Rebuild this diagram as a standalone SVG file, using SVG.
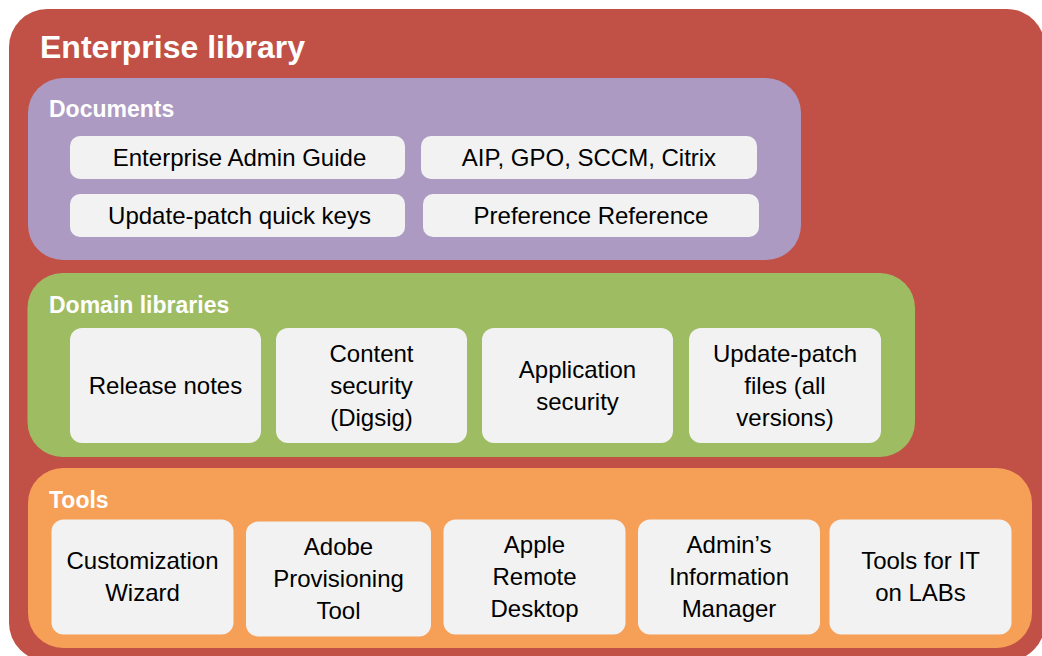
<svg xmlns="http://www.w3.org/2000/svg" width="1042" height="656" viewBox="0 0 1042 656">
<style>
.hdr{font-family:"Liberation Sans",Arial,sans-serif;font-weight:bold;fill:#FFFFFF}
.t{font-family:"Liberation Sans",Arial,sans-serif;font-size:24px;fill:#000000;text-anchor:middle}
.item{fill:#F2F2F2}
</style>
<rect width="1042" height="656" fill="#FFFFFF"/>
<g id="enterprise-library">
<rect x="9" y="9" width="1036" height="652" rx="38" fill="#C15046"/>
<text class="hdr" x="40" y="58" font-size="32">Enterprise library</text>
</g>
<g id="documents">
<rect x="28" y="78" width="773" height="182" rx="35" fill="#AD9AC2"/>
<text class="hdr" x="49" y="117" font-size="23">Documents</text>
</g>
<g id="doc-admin-guide">
<rect class="item" x="70" y="136" width="335" height="43" rx="10"/>
<text class="t" x="239.5" y="165.5">Enterprise Admin Guide</text>
</g>
<g id="doc-aip">
<rect class="item" x="421" y="136" width="336" height="43" rx="10"/>
<text class="t" x="589" y="165.5">AIP, GPO, SCCM, Citrix</text>
</g>
<g id="doc-quick-keys">
<rect class="item" x="70" y="194" width="335" height="43" rx="10"/>
<text class="t" x="239.5" y="223.5">Update-patch quick keys</text>
</g>
<g id="doc-preference">
<rect class="item" x="423" y="194" width="336" height="43" rx="10"/>
<text class="t" x="591" y="223.5">Preference Reference</text>
</g>
<g id="domain-libraries">
<rect x="27.5" y="273" width="887.5" height="184" rx="35" fill="#9EBC62"/>
<text class="hdr" x="49" y="312.5" font-size="23">Domain libraries</text>
</g>
<g id="dl-release-notes">
<rect class="item" x="70" y="328" width="191" height="115" rx="12"/>
<text class="t" x="165.5" y="393.5">Release notes</text>
</g>
<g id="dl-content-security">
<rect class="item" x="276" y="328" width="191" height="115" rx="12"/>
<text class="t" x="371.5" y="361.5">Content</text>
<text class="t" x="371.5" y="393.5">security</text>
<text class="t" x="371.5" y="425.5">(Digsig)</text>
</g>
<g id="dl-application-security">
<rect class="item" x="482" y="328" width="191" height="115" rx="12"/>
<text class="t" x="577.5" y="377.5">Application</text>
<text class="t" x="577.5" y="409.5">security</text>
</g>
<g id="dl-update-patch-files">
<rect class="item" x="689" y="328" width="192" height="115" rx="12"/>
<text class="t" x="785" y="361.5">Update-patch</text>
<text class="t" x="785" y="393.5">files (all</text>
<text class="t" x="785" y="425.5">versions)</text>
</g>
<g id="tools">
<rect x="28" y="468" width="1004" height="180" rx="35" fill="#F69F56"/>
<text class="hdr" x="49" y="507.5" font-size="23">Tools</text>
</g>
<g id="tool-customization">
<rect class="item" x="51.5" y="519.5" width="182" height="115" rx="12"/>
<text class="t" x="142.5" y="568.5">Customization</text>
<text class="t" x="142.5" y="600.5">Wizard</text>
</g>
<g id="tool-provisioning">
<rect class="item" x="246" y="521.5" width="185" height="115" rx="12"/>
<text class="t" x="338.5" y="554.5">Adobe</text>
<text class="t" x="338.5" y="586.5">Provisioning</text>
<text class="t" x="338.5" y="618.5">Tool</text>
</g>
<g id="tool-apple-remote">
<rect class="item" x="443.5" y="519.5" width="182" height="115" rx="12"/>
<text class="t" x="534.5" y="552.5">Apple</text>
<text class="t" x="534.5" y="584.5">Remote</text>
<text class="t" x="534.5" y="616.5">Desktop</text>
</g>
<g id="tool-admin-info">
<rect class="item" x="638" y="519.5" width="182" height="115" rx="12"/>
<text class="t" x="729" y="552.5">Admin’s</text>
<text class="t" x="729" y="584.5">Information</text>
<text class="t" x="729" y="616.5">Manager</text>
</g>
<g id="tool-it-labs">
<rect class="item" x="829.5" y="519.5" width="182" height="115" rx="12"/>
<text class="t" x="920.5" y="568.5">Tools for IT</text>
<text class="t" x="920.5" y="600.5">on LABs</text>
</g>
<g id="connectors"></g>
</svg>
